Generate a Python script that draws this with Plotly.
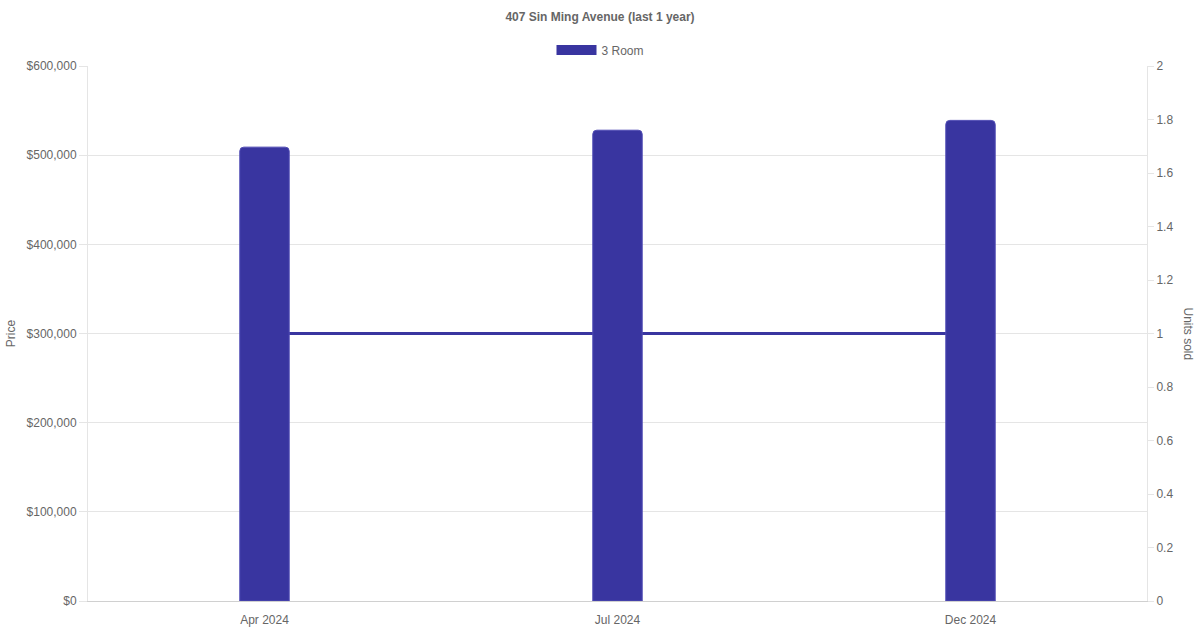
import plotly.graph_objects as go

# data
months = ['Apr 2024', 'Jul 2024', 'Dec 2024']
prices = [509000, 528000, 539000]
units_sold = [1, 1, 1]

purple = 'rgb(57,53,160)'
grey_text = '#666666'
grid = '#e5e5e5'

# units line sits on the base axis so the bars (overlay axis) are drawn over it
line = go.Scatter(
    x=months,
    y=units_sold,
    mode='lines',
    line=dict(color=purple, width=3),
    yaxis='y',
    showlegend=False,
    hoverinfo='skip'
)

bars = go.Bar(
    x=months,
    y=prices,
    name='3 Room',
    width=0.14,
    marker=dict(color=purple, line=dict(color='rgb(80,76,180)', width=1)),
    yaxis='y2',
    legendgroup='3room',
    showlegend=False
)

# legend-only entry so the key is a wide box like the reference
legend_key = go.Scatter(
    x=[None], y=[None],
    mode='lines',
    name='3 Room',
    line=dict(color=purple, width=12),
    legendgroup='3room',
    yaxis='y2'
)

layout = go.Layout(
    template='none',
    width=1200,
    height=630,
    font=dict(family='Liberation Sans, Arial, sans-serif', size=12, color=grey_text),
    paper_bgcolor='white',
    plot_bgcolor='white',
    margin=dict(l=88, r=53, t=66, b=29, autoexpand=False),
    title=dict(text='<b>407 Sin Ming Avenue (last 1 year)</b>',
               x=0.5, xanchor='center', y=1 - 17 / 630, yanchor='middle',
               font=dict(size=12, color=grey_text)),
    legend=dict(orientation='h', x=0.5 - 17 / 1059, xanchor='center',
                yref='container', y=1 - 50 / 630, yanchor='middle',
                itemwidth=40,
                font=dict(size=12, color=grey_text)),
    barcornerradius=4,
    xaxis=dict(
        type='category',
        showgrid=False,
        showline=True, linecolor='#d0d0d0', linewidth=1,
        ticks='', ticklabelstandoff=8,
        tickfont=dict(size=12, color=grey_text),
        automargin=False
    ),
    yaxis=dict(
        side='right',
        range=[0, 2],
        dtick=0.2,
        showgrid=False,
        zeroline=False,
        showline=True, linecolor=grid, linewidth=1,
        ticks='outside', ticklen=6, tickcolor=grid,
        tickfont=dict(size=12, color=grey_text),
        automargin=False
    ),
    yaxis2=dict(
        overlaying='y',
        side='left',
        anchor='x',
        range=[0, 600000],
        dtick=100000,
        tickprefix='$',
        tickformat=',',
        showgrid=True, gridcolor=grid,
        zeroline=False,
        showline=True, linecolor=grid, linewidth=1,
        ticks='outside', ticklen=8, tickcolor=grid,
        title=dict(text='Price', font=dict(size=12, color=grey_text), standoff=8),
        tickfont=dict(size=12, color=grey_text),
        automargin=False
    ),
    annotations=[dict(
        text='Units sold', textangle=90,
        xref='paper', yref='paper', x=1 + 41 / 1059, y=0.5,
        xanchor='center', yanchor='middle', showarrow=False,
        font=dict(size=12, color=grey_text)
    )]
)

fig = go.Figure(data=[line, bars, legend_key], layout=layout)
# drop the default 8px body margin so the figure fills the window exactly
fig.write_html('out.html', config={'displayModeBar': False},
               post_script="document.body.style.margin='0';")
